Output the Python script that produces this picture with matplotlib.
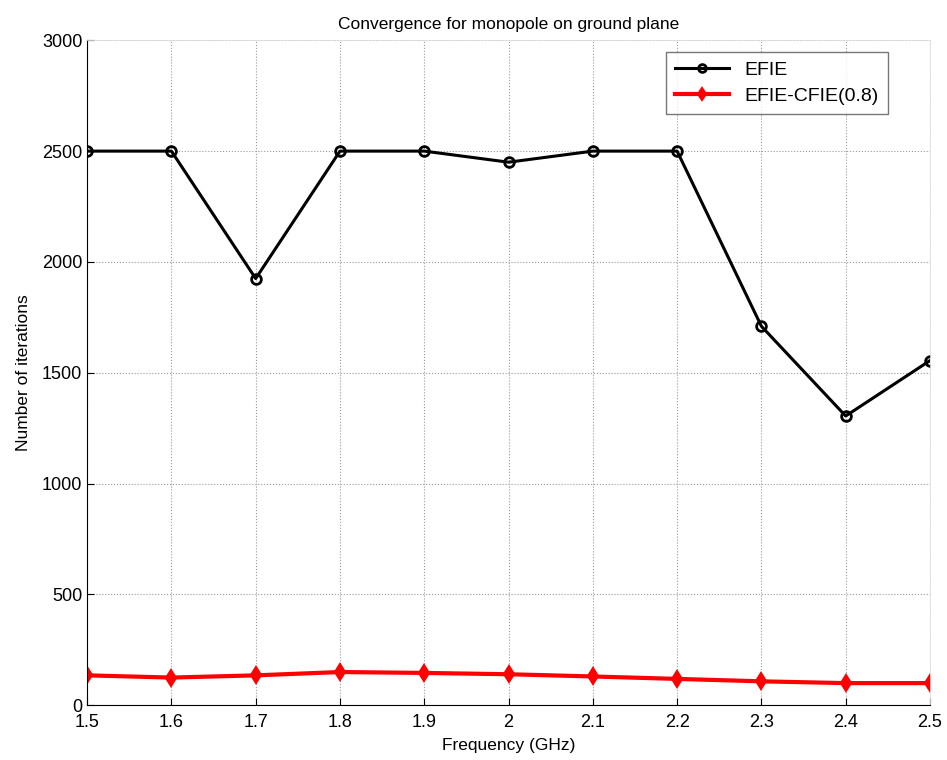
import numpy as np
import matplotlib
matplotlib.use('Agg')
import matplotlib.pyplot as plt

freq = [1.5, 1.6, 1.7, 1.8, 1.9, 2.0, 2.1, 2.2, 2.3, 2.4, 2.5]
efie = [2500, 2500, 1925, 2500, 2500, 2450, 2500, 2500, 1710, 1305, 1555]
efie_cfie = [135, 125, 135, 150, 146, 140, 130, 119, 108, 100, 100]

xticks = [1.5, 1.6, 1.7, 1.8, 1.9, 2, 2.1, 2.2, 2.3, 2.4, 2.5]
xlabels = ['1.5', '1.6', '1.7', '1.8', '1.9', '2', '2.1', '2.2', '2.3', '2.4', '2.5']
yticks = [0, 500, 1000, 1500, 2000, 2500, 3000]

plt.rcParams['font.family'] = ['Liberation Sans', 'DejaVu Sans']

fig, ax = plt.subplots(figsize=(9.47, 7.6), dpi=100)
fig.subplots_adjust(left=0.092, right=0.982, bottom=0.072, top=0.947)

ax.plot(freq, efie, color='black', lw=2.2, marker='o', ms=7,
        mfc='none', mew=2, label='EFIE')
ax.plot(freq, efie_cfie, color='red', lw=3, marker='d', ms=8,
        mfc='red', mew=1.5, label='EFIE-CFIE(0.8)')

ax.set_xlim(1.5, 2.5)
ax.set_ylim(0, 3000)
ax.set_xticks(xticks)
ax.set_xticklabels(xlabels)
ax.set_yticks(yticks)
ax.tick_params(direction='in', labelsize=13, length=5, top=False, right=False)
ax.tick_params(axis='x', pad=6)
ax.grid(True, linestyle=':', color='#999999', lw=0.8)

for s in ['top', 'right']:
    ax.spines[s].set_color('#dddddd')
    ax.spines[s].set_linewidth(0.6)

ax.set_title('Convergence for monopole on ground plane', fontsize=12.5, pad=8)
ax.set_xlabel('Frequency (GHz)', fontsize=12.5, labelpad=5)
ax.set_ylabel('Number of iterations', fontsize=12.5, labelpad=8)

leg = ax.legend(loc='upper right', bbox_to_anchor=(0.950, 0.982), borderaxespad=0,
                fontsize=14, fancybox=False, edgecolor='#555555', handlelength=2.8,
                borderpad=0.45, labelspacing=0.45, markerscale=0.8)
leg.get_frame().set_linewidth(1)

fig.savefig('out.png', dpi=100)
